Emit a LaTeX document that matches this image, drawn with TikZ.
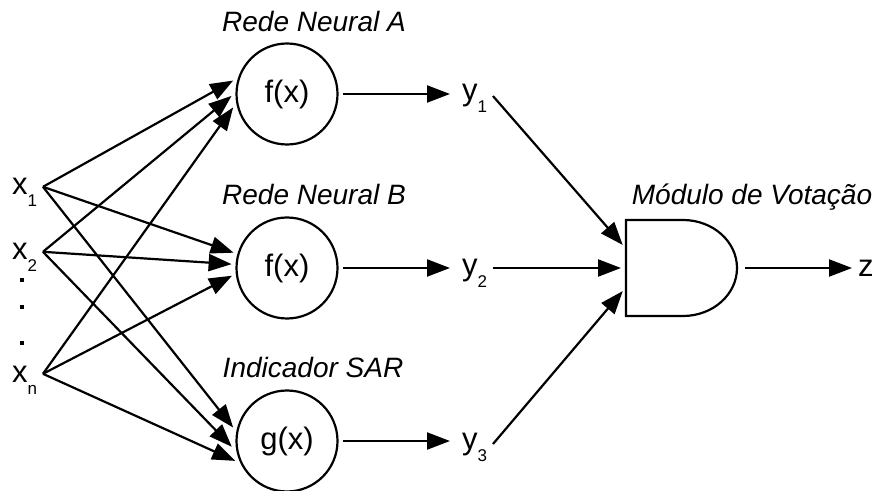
\documentclass[tikz,border=0pt]{standalone}
\usepackage{fontspec}
\setmainfont{Liberation Sans}
\usetikzlibrary{ % tikz packages
    arrows.meta,positioning
}
\tikzset{>={Triangle[length=11.5pt,width=8.5pt]}}
\tikzset{
    unit/.style={draw,circle,minimum size=50.5pt,inner sep=0pt,
        outer sep=2.5pt,font=\fontsize{15.5}{18}\selectfont},
    var/.style={inner sep=0pt,outer sep=3pt,anchor=base west,
        font=\fontsize{15.5}{18}\selectfont},
    title/.style={inner sep=0pt,anchor=base,
        font=\fontsize{14}{17}\selectfont\itshape},
    gatebox/.style={minimum width=56pt,minimum height=48pt,
        inner sep=0pt,outer sep=0pt},
    dot/.style={fill,minimum size=2pt,inner sep=0pt}
}
\newcommand{\lowsub}[1]{\raisebox{-6pt}[0pt][0pt]{\fontsize{8.5}{9}\selectfont #1}}

\begin{document}
\begin{tikzpicture}[x=0.5pt,y=-0.5pt,line width=1.1pt]
        \useasboundingbox (0,0) rectangle (877,491);

        % inputs
        \node[var] (x1) at (6,195) {x\lowsub{1}};
        \node[var] (x2) at (6,260) {x\lowsub{2}};
        \node[var] (xn) at (6,382) {x\lowsub{n}};
        \node[dot] (d1) at (21.5,280) {};
        \node[dot] (d2) at (21.5,307) {};
        \node[dot] (d3) at (21.5,343) {};

        % classifiers
        \node[unit] (nA) at (287,94) {f(x)};
        \node[unit] (nB) at (287,268) {f(x)};
        \node[unit] (nS) at (287,441) {g(x)};
        \node[title] (tA) at (314,32) {Rede Neural A};
        \node[title] (tB) at (314,205) {Rede Neural B};
        \node[title] (tS) at (313,378) {Indicador SAR};

        % outputs
        \node[var] (y1) at (456,101) {y\lowsub{1}};
        \node[var] (y2) at (456,276) {y\lowsub{2}};
        \node[var] (y3) at (456,449) {y\lowsub{3}};

        % voting
        \node[gatebox] (vote) at (682,268) {};
        \node[title] (tV) at (752,205) {Módulo de Votação};
        \draw (vote.north west) -- ++(57,0)
            arc[start angle=90,end angle=-90,x radius=27pt,y radius=24pt]
            -- (vote.south west) -- cycle;
        \node[var] (z) at (852,277) {z};

        \path[->]
            (x1.east) edge (nA.166) edge (nB.164) edge (nS.166)
            (x2.east) edge (nA.182) edge (nB.176) edge (nS.186)
            (xn.east) edge (nA.194) edge (nB.188) edge (nS.201);

        \path[->,shorten >=3pt]
            (nA.east) edge (nA.east -| y1.west)
            (nB.east) edge (nB.east -| y2.west)
            (nS.east) edge (nS.east -| y3.west);

        \path[->,shorten >=2.5pt]
            (y1.east) edge (vote.161)
            (y2.east |- vote.west) edge (vote.west)
            (y3.east) edge (vote.199);

        \draw[->,shorten <=3.5pt] (vote.east) -- (vote.east -| z.west);
\end{tikzpicture}
\end{document}
